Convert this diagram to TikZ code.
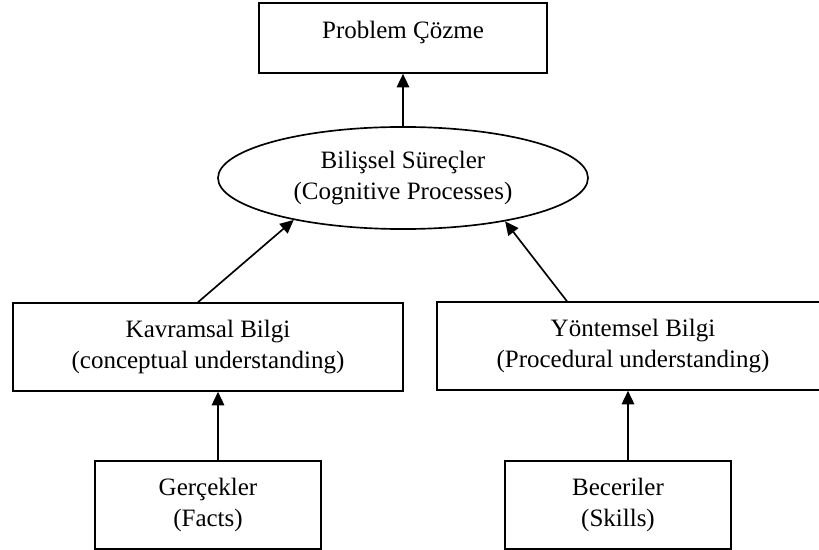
\documentclass[tikz,border=0pt]{standalone}
\usepackage{fontspec}
\setmainfont{Liberation Serif}
\usetikzlibrary{arrows.meta,shapes.geometric}

\begin{document}
\begin{tikzpicture}
[x=0.48pt,y=-0.48pt,>={Triangle[length=6.5pt,width=6pt]},line width=0.8pt,
box/.style={draw,rectangle,align=center,inner sep=0pt,font=\fontsize{12}{15}\selectfont},
oval/.style={draw,ellipse,align=center,inner sep=0pt,font=\fontsize{12}{15}\selectfont},]

\useasboundingbox (0,0) rectangle (819,550);

%Placing boxes
\node (prob) at (403,38)[box,minimum width=138.2pt,minimum height=33.6pt,text depth=8.2pt] {Problem Çözme};
\node (cog) at (403,178)[oval,minimum width=177.6pt,minimum height=49pt] {Bilişsel Süreçler\\(Cognitive Processes)};
\node (kav) at (208,347)[box,minimum width=187.2pt,minimum height=42.2pt] {Kavramsal Bilgi\\(conceptual understanding)};
\node (yon) at (633,346)[box,minimum width=188.2pt,minimum height=42.2pt] {Yöntemsel Bilgi\\(Procedural understanding)};
\node (ger) at (208,505)[box,minimum width=108.5pt,minimum height=42.2pt] {Gerçekler\\(Facts)};
\node (bec) at (618,505)[box,minimum width=108.5pt,minimum height=42.2pt] {Beceriler\\(Skills)};

%Drawing arrows
\draw[->] (cog.north) -- (prob.south);
\draw[->] ([xshift=-4.8pt]kav.north) -- (cog.201);
\draw[->] ([xshift=-31.7pt]yon.north) -- (cog.337);
\draw[->] ([xshift=4.8pt]ger.north) -- ([xshift=4.8pt]ger.north |- kav.south);
\draw[->] ([xshift=4.8pt]bec.north) -- ([xshift=4.8pt]bec.north |- yon.south);

\end{tikzpicture}
\end{document}
